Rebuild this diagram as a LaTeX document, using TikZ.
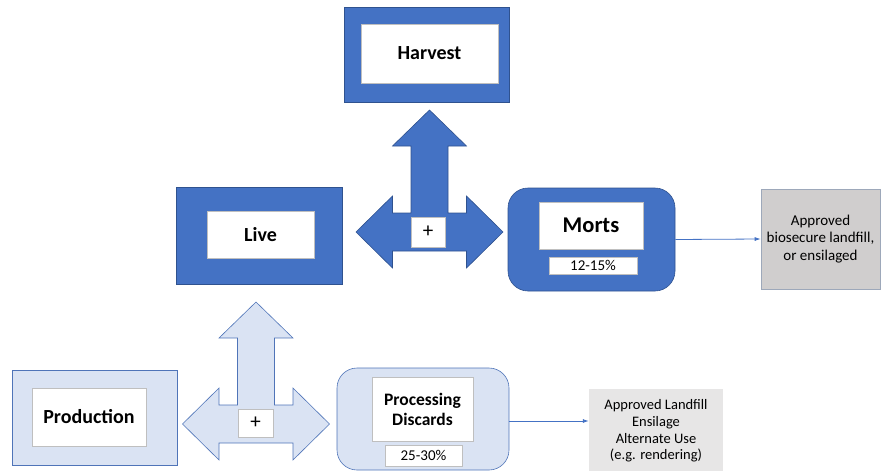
\documentclass[tikz,border=0pt]{standalone}
\usepackage{fontspec}
\setmainfont{Carlito}
\usetikzlibrary{arrows.meta}
\definecolor{dkblue}{HTML}{4472C4}
\definecolor{dkedge}{HTML}{2F528F}
\definecolor{ltblue}{HTML}{DAE3F3}
\definecolor{ltedge}{HTML}{4F74B8}
\definecolor{gray1}{HTML}{D0CECE}
\definecolor{gray1edge}{HTML}{9DA8BA}
\definecolor{gray2}{HTML}{E7E6E6}
\definecolor{inedge}{HTML}{BFBFBF}
\begin{document}
\begin{tikzpicture}[x=1pt,y=-1pt,
  darkbox/.style={draw=dkedge,fill=dkblue,line width=0.6pt,inner sep=0pt},
  lightbox/.style={draw=ltedge,fill=ltblue,line width=0.6pt,inner sep=0pt},
  inbox/.style={draw=inedge,fill=white,line width=0.8pt,inner sep=0pt,align=center},
  biglabel/.style={font=\fontsize{20}{24}\selectfont\bfseries},
  pct/.style={font=\fontsize{15}{18}\selectfont},
  plussign/.style={font=\fontsize{21}{24}\selectfont},
  disp/.style={inner sep=0pt,align=center},
  conn/.style={draw=dkblue,line width=0.8pt,-{Latex[length=6pt,width=4pt]}},
  pics/tcross/.style args={#1/#2}{code={
    \path[fill=#1,draw=#2,line width=0.6pt]
      (-73.5,0) -- (-37,-36) -- (-37,-19) -- (-18.5,-19) -- (-18.5,-86)
      -- (-37,-86) -- (0,-122) -- (37,-86) -- (18.5,-86) -- (18.5,-19)
      -- (37,-19) -- (37,-36) -- (73.5,0) -- (37,36) -- (37,19)
      -- (-37,19) -- (-37,36) -- cycle;
  }}]
\useasboundingbox (0,0) rectangle (883,471);

% Harvest
\node[darkbox,minimum width=165,minimum height=95] (harvestout) at (426.5,54.5) {};
\node[inbox,biglabel,minimum width=137,minimum height=59] (harvest) at (429.5,53.5) {Harvest};

% Live
\node[darkbox,minimum width=166,minimum height=97] (liveout) at (259,235.5) {};
\node[inbox,biglabel,minimum width=107,minimum height=47] (live) at (260.5,234.5) {Live};

% upper cross
\pic at (429.5,232) {tcross={dkblue/dkedge}};
\node[inbox,plussign,minimum width=34,minimum height=30] (plus1) at (428,232) {+};

% Morts
\node[darkbox,rounded corners=20pt,minimum width=167,minimum height=103] (mortsout) at (591.5,239.5) {};
\node[inbox,font=\fontsize{22.5}{26}\selectfont\bfseries,minimum width=104,minimum height=47] (morts) at (591,225.5) {Morts};
\node[inbox,pct,minimum width=88,minimum height=17] (mortspct) at (593,265.5) {12-15\%};

% disposal 1
\node[draw=gray1edge,fill=gray1,line width=0.6pt,minimum width=119,minimum height=100,inner sep=0pt] (disp1box) at (820.5,239) {};
\node[disp,font=\fontsize{15}{17.5}\selectfont] (disp1) at (820.5,239) {Approved\\biosecure landfill,\\or ensilaged};
\draw[conn] (mortsout.east) -- (disp1box.west);

% Production
\node[lightbox,minimum width=165,minimum height=95] (prodout) at (94.5,417.5) {};
\node[inbox,biglabel,minimum width=114,minimum height=58] (prod) at (89,417) {Production};

% lower cross
\pic at (256,424) {tcross={ltblue/ltedge}};
\node[inbox,plussign,minimum width=35,minimum height=28] (plus2) at (255.5,423) {+};

% Processing discards
\node[lightbox,rounded corners=20pt,minimum width=172,minimum height=102] (procout) at (423,419) {};
\node[inbox,font=\fontsize{17.5}{20}\selectfont\bfseries,minimum width=101,minimum height=64] (proc) at (422.5,409) {Processing\\Discards};
\node[inbox,pct,minimum width=77,minimum height=21] (procpct) at (423.5,455.5) {25-30\%};

% disposal 2
\node[fill=gray2,minimum width=134,minimum height=82,inner sep=0pt] (disp2box) at (656,430) {};
\node[disp,font=\fontsize{14.5}{16.7}\selectfont] (disp2) at (656,431) {Approved Landfill\\Ensilage\\Alternate Use\\(e.g. rendering)};
\draw[conn] (procout.east |- 0,421) -- (disp2box.west |- 0,421);
\end{tikzpicture}
\end{document}
